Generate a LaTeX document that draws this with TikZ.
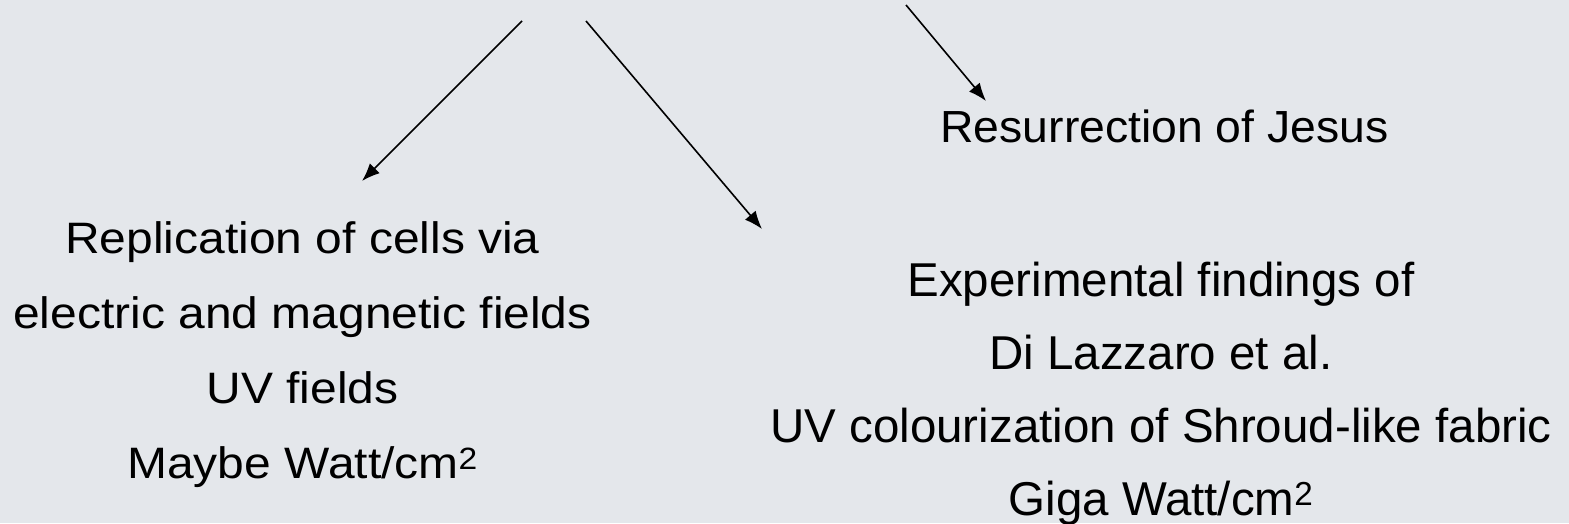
\documentclass[tikz,border=0pt]{standalone}
\usepackage{fontspec}
\setmainfont{Liberation Sans}
\newfontfamily\widefont[FakeStretch=1.09]{Liberation Sans}
\newfontfamily\midfont[FakeStretch=1.03]{Liberation Sans}
\usetikzlibrary{arrows.meta}
\definecolor{slidebg}{HTML}{E4E7EB}

\begin{document}
\begin{tikzpicture}[x=1pt,y=-1pt,>/.tip={Latex[length=18pt,width=14pt]},
	lbl/.style={inner sep=0pt,align=center,font=\widefont\fontsize{44}{75}\selectfont},
	head/.style={inner sep=0pt,font=\midfont\fontsize{45}{54}\selectfont},
	find/.style={inner sep=0pt,align=center,font=\fontsize{47.5}{73}\selectfont}]
	\fill[slidebg] (0,0) rectangle (1569,523);
	\useasboundingbox (0,0) rectangle (1569,523);

	\draw (1164.5,142) node (jesus) [head,anchor=base] {Resurrection of Jesus};
	\draw (302.5,221) node (cells) [lbl,anchor=north]
		{Replication of cells via\\electric and magnetic fields\\UV fields\\Maybe Watt/cm\textsuperscript{2}};
	\draw (1161,261.4) node (lazzaro) [find,anchor=north]
		{Experimental findings of\\Di Lazzaro et al.\\UV colourization of Shroud-like fabric\\Giga Watt/cm\textsuperscript{2}};

	% arrow ends
	\coordinate (s1) at (522,21);
	\coordinate (t1) at (362,181);
	\coordinate (s2) at (586,21);
	\coordinate (t2) at (762,229);
	\coordinate (s3) at (906,5);
	\coordinate (t3) at (986,101);
	\draw[->,line width=1.6pt] (s1) -- (t1);
	\draw[->,line width=1.6pt] (s2) -- (t2);
	\draw[->,line width=1.6pt] (s3) -- (t3);
\end{tikzpicture}
\end{document}
